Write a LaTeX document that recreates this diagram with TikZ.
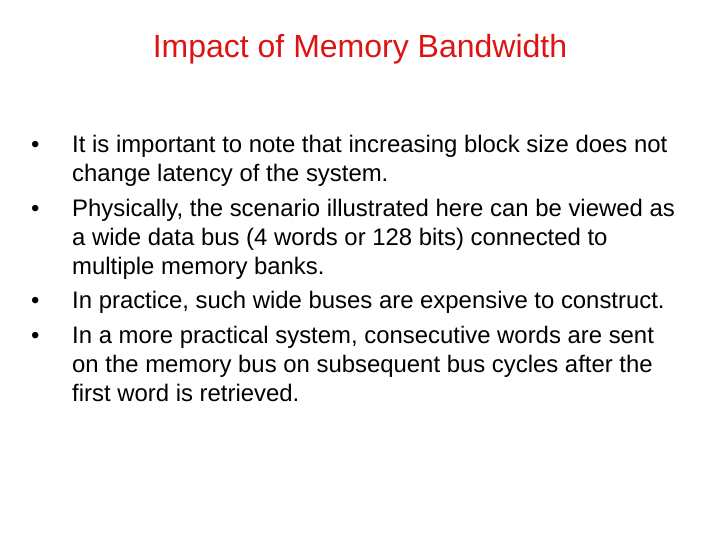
\documentclass[tikz,border=0pt]{standalone}
\usepackage{fontspec}
\setmainfont{Liberation Sans}
\definecolor{titlered}{RGB}{220,20,20}
\begin{document}
\begin{tikzpicture}[x=1pt,y=-1pt,
  ln/.style={anchor=base west,inner sep=0pt,font=\fontsize{23.9}{28}\selectfont},
  bl/.style={anchor=base west,inner sep=0pt,font=\fontsize{23.9}{28}\selectfont}]
\useasboundingbox (0,0) rectangle (720,540);
\node[anchor=base,inner sep=0pt,text=titlered,font=\fontsize{32}{36}\selectfont] (title) at (360,58) {Impact of Memory Bandwidth};
\node[bl] (b1) at (31,153) {•};
\node[ln] (l1) at (72,153) {It is important to note that increasing block size does not};
\node[ln] (l2) at (72,182) {change latency of the system.};
\node[bl] (b2) at (31,216) {•};
\node[ln] (l3) at (72,216) {Physically, the scenario illustrated here can be viewed as};
\node[ln] (l4) at (72,245) {a wide data bus (4 words or 128 bits) connected to};
\node[ln] (l5) at (72,274) {multiple memory banks.};
\node[bl] (b3) at (31,308) {•};
\node[ln] (l6) at (72,308) {In practice, such wide buses are expensive to construct.};
\node[bl] (b4) at (31,343) {•};
\node[ln] (l7) at (72,343) {In a more practical system, consecutive words are sent};
\node[ln] (l8) at (72,372) {on the memory bus on subsequent bus cycles after the};
\node[ln] (l9) at (72,401) {first word is retrieved.};
\end{tikzpicture}
\end{document}
